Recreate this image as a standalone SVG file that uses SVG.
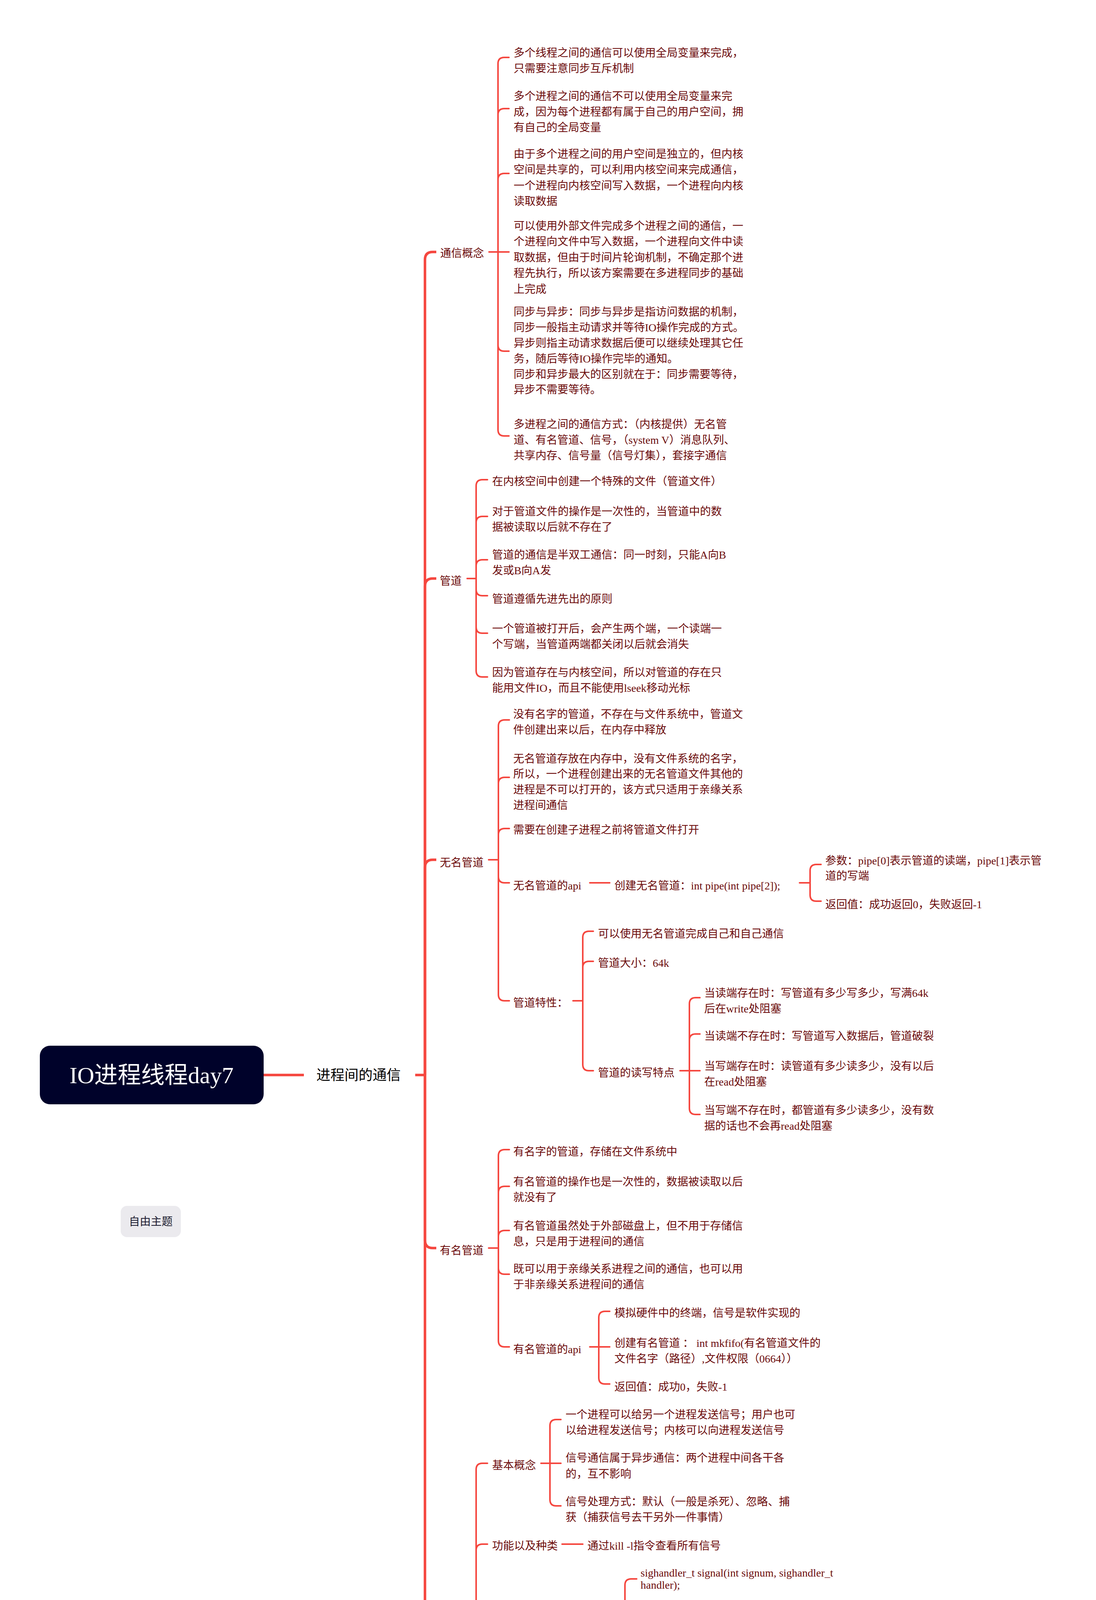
<svg xmlns="http://www.w3.org/2000/svg" width="2806" height="6132" viewBox="0 0 2806 6132">
<style>
.t{font-family:"Liberation Serif","Noto Sans CJK SC",serif;font-size:28px;fill:#6B0A0A}
.c{fill:none;stroke:#F5473F;stroke-width:4;stroke-linecap:round;stroke-linejoin:round}
.cm{fill:none;stroke:#F5473F;stroke-width:6.5;stroke-linecap:butt;stroke-linejoin:round}
</style>
<rect x="0" y="0" width="2806" height="6132" fill="#FFFFFF"/>
<g id="connectors">
<path class="cm" d="M675 2752H778"/>
<path class="cm" d="M1063 2752H1088"/>
<path class="cm" d="M1088 2752V665Q1088 645 1108 645H1117"/>
<path class="cm" d="M1088 2752V1501Q1088 1481 1108 1481H1117"/>
<path class="cm" d="M1088 2752V2221Q1088 2201 1108 2201H1117"/>
<path class="cm" d="M1088 2752V3175Q1088 3195 1108 3195H1117"/>
<path class="cm" d="M1088 2752V4835Q1088 4855 1108 4855H1117"/>
<!-- 通信概念 -->
<path class="c" d="M1252 645H1275"/>
<path class="c" d="M1275 645V163Q1275 147 1291 147H1303"/>
<path class="c" d="M1275 645V294Q1275 278 1291 278H1303"/>
<path class="c" d="M1275 645V460Q1275 444 1291 444H1303"/>
<path class="c" d="M1275 645H1303"/>
<path class="c" d="M1275 645V883Q1275 899 1291 899H1303"/>
<path class="c" d="M1275 645V1100Q1275 1116 1291 1116H1303"/>
<!-- 管道 -->
<path class="c" d="M1196 1481H1219"/>
<path class="c" d="M1219 1481V1244Q1219 1228 1235 1228H1248"/>
<path class="c" d="M1219 1481V1338Q1219 1322 1235 1322H1248"/>
<path class="c" d="M1219 1481V1449Q1219 1433 1235 1433H1248"/>
<path class="c" d="M1219 1481V1509Q1219 1525 1235 1525H1248"/>
<path class="c" d="M1219 1481V1605Q1219 1621 1235 1621H1248"/>
<path class="c" d="M1219 1481V1717Q1219 1733 1235 1733H1248"/>
<!-- 无名管道 -->
<path class="c" d="M1251 2201H1276"/>
<path class="c" d="M1276 2201V1859Q1276 1843 1292 1843H1304"/>
<path class="c" d="M1276 2201V2006Q1276 1990 1292 1990H1304"/>
<path class="c" d="M1276 2201V2137Q1276 2121 1292 2121H1304"/>
<path class="c" d="M1276 2201V2244Q1276 2260 1292 2260H1304"/>
<path class="c" d="M1276 2201V2546Q1276 2562 1292 2562H1304"/>
<path class="c" d="M1510 2260H1561"/>
<path class="c" d="M2047 2260H2074"/>
<path class="c" d="M2074 2260V2229Q2074 2213 2090 2213H2102"/>
<path class="c" d="M2074 2260V2291Q2074 2307 2090 2307H2102"/>
<path class="c" d="M1467 2562H1492"/>
<path class="c" d="M1492 2562V2400Q1492 2384 1508 2384H1519"/>
<path class="c" d="M1492 2562V2477Q1492 2461 1508 2461H1519"/>
<path class="c" d="M1492 2562V2725Q1492 2741 1508 2741H1519"/>
<path class="c" d="M1741 2741H1765"/>
<path class="c" d="M1765 2741V2570Q1765 2554 1781 2554H1792"/>
<path class="c" d="M1765 2741V2663Q1765 2647 1781 2647H1792"/>
<path class="c" d="M1765 2741H1792"/>
<path class="c" d="M1765 2741V2837Q1765 2853 1781 2853H1792"/>
<!-- 有名管道 -->
<path class="c" d="M1251 3195H1276"/>
<path class="c" d="M1276 3195V2959Q1276 2943 1292 2943H1304"/>
<path class="c" d="M1276 3195V3053Q1276 3037 1292 3037H1304"/>
<path class="c" d="M1276 3195V3166Q1276 3150 1292 3150H1304"/>
<path class="c" d="M1276 3195V3246Q1276 3262 1292 3262H1304"/>
<path class="c" d="M1276 3195V3432Q1276 3448 1292 3448H1304"/>
<path class="c" d="M1510 3448H1533"/>
<path class="c" d="M1533 3448V3373Q1533 3357 1549 3357H1561"/>
<path class="c" d="M1533 3448H1561"/>
<path class="c" d="M1533 3448V3527Q1533 3543 1549 3543H1561"/>
<!-- 信号 -->
<path class="c" d="M1196 4855H1219"/>
<path class="c" d="M1219 4855V3762Q1219 3746 1235 3746H1248"/>
<path class="c" d="M1219 4855V3969Q1219 3953 1235 3953H1248"/>
<path class="c" d="M1219 4855V4302Q1219 4286 1235 4286H1248"/>
<path class="c" d="M1219 4855H1248"/>
<path class="c" d="M1219 4855V5272Q1219 5288 1235 5288H1248"/>
<path class="c" d="M1219 4855V5720Q1219 5736 1235 5736H1248"/>
<path class="c" d="M1219 4855V5907Q1219 5923 1235 5923H1248"/>
<path class="c" d="M1219 4855V5984Q1219 6000 1235 6000H1248"/>
<path class="c" d="M1385 3746H1408"/>
<path class="c" d="M1408 3746V3650Q1408 3634 1424 3634H1436"/>
<path class="c" d="M1408 3746H1436"/>
<path class="c" d="M1408 3746V3839Q1408 3855 1424 3855H1436"/>
<path class="c" d="M1439 3953H1492"/>
<path class="c" d="M1575 4286H1600"/>
<path class="c" d="M1600 4286V4058Q1600 4042 1616 4042H1630"/>
<path class="c" d="M1600 4286V4150Q1600 4134 1616 4134H1630"/>
<path class="c" d="M1600 4286V4226Q1600 4210 1616 4210H1630"/>
<path class="c" d="M1600 4286V4339Q1600 4355 1616 4355H1630"/>
<path class="c" d="M1600 4286V4505Q1600 4521 1616 4521H1630"/>
<path class="c" d="M1633 4855H1655"/>
<path class="c" d="M1655 4855V4634Q1655 4618 1671 4618H1683"/>
<path class="c" d="M1655 4855V4710Q1655 4694 1671 4694H1683"/>
<path class="c" d="M1655 4855H1683"/>
<path class="c" d="M1655 4855V5006Q1655 5022 1671 5022H1683"/>
<path class="c" d="M1655 4855V5083Q1655 5099 1671 5099H1683"/>
<path class="c" d="M1633 5288H1655"/>
<path class="c" d="M1655 5288V5194Q1655 5178 1671 5178H1683"/>
<path class="c" d="M1655 5288V5266Q1655 5250 1671 5250H1683"/>
<path class="c" d="M1655 5288V5308Q1655 5324 1671 5324H1683"/>
<path class="c" d="M1655 5288V5386Q1655 5402 1671 5402H1683"/>
<path class="c" d="M1689 5736H1711"/>
<path class="c" d="M1711 5736V5660Q1711 5644 1727 5644H1739"/>
<path class="c" d="M1711 5736V5814Q1711 5830 1727 5830H1739"/>
<path class="c" d="M1820 5644H1843"/>
<path class="c" d="M1843 5644V5531Q1843 5515 1859 5515H1874"/>
<path class="c" d="M1843 5644H1874"/>
<path class="c" d="M1843 5644V5721Q1843 5737 1859 5737H1874"/>
</g>
<g id="root">
<rect x="102" y="2677" width="573" height="150" rx="26" fill="#00022A"/>
<text x="388" y="2773" text-anchor="middle" style="font-family:'Liberation Serif','Noto Sans CJK SC',serif;font-size:60px;fill:#FFFFFF">IO进程线程day7</text>
</g>
<g id="main">
<text x="810" y="2765" style="font-family:'Noto Sans CJK SC',sans-serif;font-size:36px;fill:#000000">进程间的通信</text>
</g>
<g id="free">
<rect x="309" y="3087" width="154" height="80" rx="16" fill="#EBEAEE"/>
<text x="386" y="3137" text-anchor="middle" style="font-family:'Noto Sans CJK SC',sans-serif;font-size:28px;fill:#1A1A2E">自由主题</text>
</g>
<g id="tongxin">
<text class="t" x="1127" y="658">通信概念</text>
</g>
<g id="tx1"><text class="t"><tspan x="1315" y="145">多个线程之间的通信可以使用全局变量来完成，</tspan><tspan x="1315" y="185">只需要注意同步互斥机制</tspan></text></g>
<g id="tx2"><text class="t"><tspan x="1315" y="256">多个进程之间的通信不可以使用全局变量来完</tspan><tspan x="1315" y="296">成，因为每个进程都有属于自己的用户空间，拥</tspan><tspan x="1315" y="336">有自己的全局变量</tspan></text></g>
<g id="tx3"><text class="t"><tspan x="1315" y="404">由于多个进程之间的用户空间是独立的，但内核</tspan><tspan x="1315" y="444">空间是共享的，可以利用内核空间来完成通信，</tspan><tspan x="1315" y="485">一个进程向内核空间写入数据，一个进程向内核</tspan><tspan x="1315" y="525">读取数据</tspan></text></g>
<g id="tx4"><text class="t"><tspan x="1315" y="588">可以使用外部文件完成多个进程之间的通信，一</tspan><tspan x="1315" y="628">个进程向文件中写入数据，一个进程向文件中读</tspan><tspan x="1315" y="669">取数据，但由于时间片轮询机制，不确定那个进</tspan><tspan x="1315" y="709">程先执行，所以该方案需要在多进程同步的基础</tspan><tspan x="1315" y="750">上完成</tspan></text></g>
<g id="tx5"><text class="t"><tspan x="1315" y="808">同步与异步：同步与异步是指访问数据的机制，</tspan><tspan x="1315" y="848">同步一般指主动请求并等待IO操作完成的方式。</tspan><tspan x="1315" y="888">异步则指主动请求数据后便可以继续处理其它任</tspan><tspan x="1315" y="928">务，随后等待IO操作完毕的通知。</tspan><tspan x="1315" y="968">同步和异步最大的区别就在于：同步需要等待，</tspan><tspan x="1315" y="1007">异步不需要等待。</tspan></text></g>
<g id="tx6"><text class="t"><tspan x="1315" y="1096">多进程之间的通信方式：（内核提供）无名管</tspan><tspan x="1315" y="1136">道、有名管道、信号，（system V）消息队列、</tspan><tspan x="1315" y="1176">共享内存、信号量（信号灯集），套接字通信</tspan></text></g>
<g id="guandao"><text class="t" x="1126" y="1497">管道</text></g>
<g id="gd1"><text class="t" x="1260" y="1242">在内核空间中创建一个特殊的文件（管道文件）</text></g>
<g id="gd2"><text class="t"><tspan x="1260" y="1319">对于管道文件的操作是一次性的，当管道中的数</tspan><tspan x="1260" y="1359">据被读取以后就不存在了</tspan></text></g>
<g id="gd3"><text class="t"><tspan x="1260" y="1430">管道的通信是半双工通信：同一时刻，只能A向B</tspan><tspan x="1260" y="1470">发或B向A发</tspan></text></g>
<g id="gd4"><text class="t" x="1260" y="1543">管道遵循先进先出的原则</text></g>
<g id="gd5"><text class="t"><tspan x="1260" y="1619">一个管道被打开后，会产生两个端，一个读端一</tspan><tspan x="1260" y="1659">个写端，当管道两端都关闭以后就会消失</tspan></text></g>
<g id="gd6"><text class="t"><tspan x="1260" y="1731">因为管道存在与内核空间，所以对管道的存在只</tspan><tspan x="1260" y="1771">能用文件IO，而且不能使用lseek移动光标</tspan></text></g>
<g id="wuming"><text class="t" x="1126" y="2218">无名管道</text></g>
<g id="wm1"><text class="t"><tspan x="1314" y="1838">没有名字的管道，不存在与文件系统中，管道文</tspan><tspan x="1314" y="1878">件创建出来以后，在内存中释放</tspan></text></g>
<g id="wm2"><text class="t"><tspan x="1314" y="1952">无名管道存放在内存中，没有文件系统的名字，</tspan><tspan x="1314" y="1991">所以，一个进程创建出来的无名管道文件其他的</tspan><tspan x="1314" y="2031">进程是不可以打开的，该方式只适用于亲缘关系</tspan><tspan x="1314" y="2071">进程间通信</tspan></text></g>
<g id="wm3"><text class="t" x="1314" y="2134">需要在创建子进程之前将管道文件打开</text></g>
<g id="wm4"><text class="t" x="1314" y="2277">无名管道的api</text></g>
<g id="wm4a"><text class="t" x="1573" y="2277">创建无名管道：int pipe(int pipe[2]);</text></g>
<g id="wm4a1"><text class="t"><tspan x="2113" y="2213">参数：pipe[0]表示管道的读端，pipe[1]表示管</tspan><tspan x="2113" y="2252">道的写端</tspan></text></g>
<g id="wm4a2"><text class="t" x="2113" y="2325">返回值：成功返回0，失败返回-1</text></g>
<g id="wm5"><text class="t" x="1314" y="2577">管道特性：</text></g>
<g id="wm5a"><text class="t" x="1531" y="2400">可以使用无名管道完成自己和自己通信</text></g>
<g id="wm5b"><text class="t" x="1531" y="2475">管道大小：64k</text></g>
<g id="wm5c"><text class="t" x="1531" y="2756">管道的读写特点</text></g>
<g id="rw1"><text class="t"><tspan x="1803" y="2552">当读端存在时：写管道有多少写多少，写满64k</tspan><tspan x="1803" y="2592">后在write处阻塞</tspan></text></g>
<g id="rw2"><text class="t" x="1803" y="2662">当读端不存在时：写管道写入数据后，管道破裂</text></g>
<g id="rw3"><text class="t"><tspan x="1803" y="2739">当写端存在时：读管道有多少读多少，没有以后</tspan><tspan x="1803" y="2779">在read处阻塞</tspan></text></g>
<g id="rw4"><text class="t"><tspan x="1803" y="2852">当写端不存在时，都管道有多少读多少，没有数</tspan><tspan x="1803" y="2892">据的话也不会再read处阻塞</tspan></text></g>
<g id="youming"><text class="t" x="1126" y="3211">有名管道</text></g>
<g id="ym1"><text class="t" x="1314" y="2958">有名字的管道，存储在文件系统中</text></g>
<g id="ym2"><text class="t"><tspan x="1314" y="3035">有名管道的操作也是一次性的，数据被读取以后</tspan><tspan x="1314" y="3075">就没有了</tspan></text></g>
<g id="ym3"><text class="t"><tspan x="1314" y="3148">有名管道虽然处于外部磁盘上，但不用于存储信</tspan><tspan x="1314" y="3188">息，只是用于进程间的通信</tspan></text></g>
<g id="ym4"><text class="t"><tspan x="1314" y="3258">既可以用于亲缘关系进程之间的通信，也可以用</tspan><tspan x="1314" y="3298">于非亲缘关系进程间的通信</tspan></text></g>
<g id="ym5"><text class="t" x="1314" y="3464">有名管道的api</text></g>
<g id="ym5a"><text class="t" x="1573" y="3371">模拟硬件中的终端，信号是软件实现的</text></g>
<g id="ym5b"><text class="t"><tspan x="1573" y="3448">创建有名管道 ： int mkfifo(有名管道文件的</tspan><tspan x="1573" y="3488">文件名字（路径）,文件权限（0664））</tspan></text></g>
<g id="ym5c"><text class="t" x="1573" y="3560">返回值：成功0，失败-1</text></g>
<g id="xinhao"><text class="t" x="1126" y="4873">信号</text></g>
<g id="xh1"><text class="t" x="1260" y="3761">基本概念</text></g>
<g id="xh1a"><text class="t"><tspan x="1448" y="3631">一个进程可以给另一个进程发送信号；用户也可</tspan><tspan x="1448" y="3671">以给进程发送信号；内核可以向进程发送信号</tspan></text></g>
<g id="xh1b"><text class="t"><tspan x="1448" y="3742">信号通信属于异步通信：两个进程中间各干各</tspan><tspan x="1448" y="3783">的，互不影响</tspan></text></g>
<g id="xh1c"><text class="t"><tspan x="1448" y="3854">信号处理方式：默认（一般是杀死）、忽略、捕</tspan><tspan x="1448" y="3894">获（捕获信号去干另外一件事情）</tspan></text></g>
<g id="xh2"><text class="t" x="1260" y="3967">功能以及种类</text></g>
<g id="xh2a"><text class="t" x="1504" y="3967">通过kill -l指令查看所有信号</text></g>
<g id="xh3"><text class="t" x="1260" y="4300">信号绑定函数（signal）</text></g>
<g id="xh3a"><text class="t"><tspan x="1640" y="4036">sighandler_t signal(int signum, sighandler_t</tspan><tspan x="1640" y="4067">handler);</tspan></text></g>
<g id="xh3b"><text class="t" x="1640" y="4148">功能：将信号与信号处理方式绑定到一起</text></g>
<g id="xh3c"><text class="t" x="1646" y="4225">参数1：要绑定的信号号</text></g>
<g id="xh3d"><text class="t"><tspan x="1640" y="4300">参数2：信号处理方式</tspan><tspan x="1760" y="4340">SIG_IGN：忽略</tspan><tspan x="1760" y="4381">SIG_DFL：默认</tspan><tspan x="1760" y="4421">有参无返回值函数的地址：信号处理</tspan><tspan x="1640" y="4461">函数</tspan></text></g>
<g id="xh3e"><text class="t"><tspan x="1646" y="4521">返回值：成功返回信号处理函数，失败返回</tspan><tspan x="1640" y="4561">SIG_ERR,并置位错误码</tspan></text></g>
<g id="xh4"><text class="t" x="1260" y="4873">信号发送函数（kill，raise）</text></g>
<g id="xh4a"><text class="t" x="1704" y="4626">int kill(pid_t pid, int sig);</text></g>
<g id="xh4b"><text class="t" x="1695" y="4707">功能：向指定的进程或进程组内发射信号</text></g>
<g id="xh4c"><text class="t"><tspan x="1695" y="4784">参数1：信号号</tspan><tspan x="1760" y="4823">&gt;0: 表示向特定的进程发送信号</tspan><tspan x="1760" y="4863">=0：向当前进程所在的进程组内发射信号</tspan><tspan x="1760" y="4903">=-1：向所有进程发送信号</tspan><tspan x="1760" y="4943">&lt;-1:向指定进程组（组ID为pid的绝对值)</tspan><tspan x="1695" y="4983">发送信号</tspan></text></g>
<g id="xh4d"><text class="t" x="1695" y="5039">参数2：要发送的信号号</text></g>
<g id="xh4e"><text class="t" x="1695" y="5115">返回值：成功返回0，失败返回-1并置位错误码</text></g>
<g id="xh5"><text class="t" x="1260" y="5304">信号发送函数（kill，raise）</text></g>
<g id="xh5a"><text class="t" x="1695" y="5183">int raise(int sig)</text></g>
<g id="xh5b"><text class="t" x="1695" y="5265">功能：向当前进程发送信号：kill(getpid(), sig)</text></g>
<g id="xh5c"><text class="t" x="1695" y="5341">参数：要发送的信号号</text></g>
<g id="xh5d"><text class="t" x="1695" y="5417">返回值：成功返回0，失败返回非0数字</text></g>
<g id="xh6"><text class="t"><tspan x="1260" y="5753">System V进程间通信（IPC对</tspan><tspan x="1260" y="5793">象）</tspan></text></g>
<g id="xh6a"><text class="t" x="1752" y="5659">种类</text></g>
<g id="xh6a1"><text class="t"><tspan x="1883" y="5492">消息队列：在内核空间维护了一个队列，所有进</tspan><tspan x="1883" y="5532">程都可以向队列中存放数据，也可以从队列中取</tspan><tspan x="1883" y="5573">出数据</tspan></text></g>
<g id="xh6a2"><text class="t"><tspan x="1883" y="5640">共享内存：将物理内存映射出来，共所有进程使</tspan><tspan x="1883" y="5680">用</tspan></text></g>
<g id="xh6a3"><text class="t" x="1883" y="5753">信号量（信号灯集）：主要完成进程的同步工作</text></g>
<g id="xh6b"><text class="t"><tspan x="1752" y="5829">关于system V提供的进程间通信对象，都需要使</tspan><tspan x="1752" y="5869">用一个key值</tspan></text></g>
<g id="xh7"><text class="t" x="1260" y="5940">消息队列</text></g>
<g id="xh8"><text class="t" x="1260" y="6016">共享内存</text></g>
<g id="footer">
<text x="1233" y="6085" style="font-family:'Liberation Sans',sans-serif;font-size:34px;fill:#D0D0D0">Presented with <tspan style="font-weight:bold">xmind</tspan></text>
<text x="2606" y="6119" style="font-family:'Liberation Sans',sans-serif;font-size:18px;fill:#9A9A9A">CSDN @yuanruizhi123</text>
</g>
</svg>
